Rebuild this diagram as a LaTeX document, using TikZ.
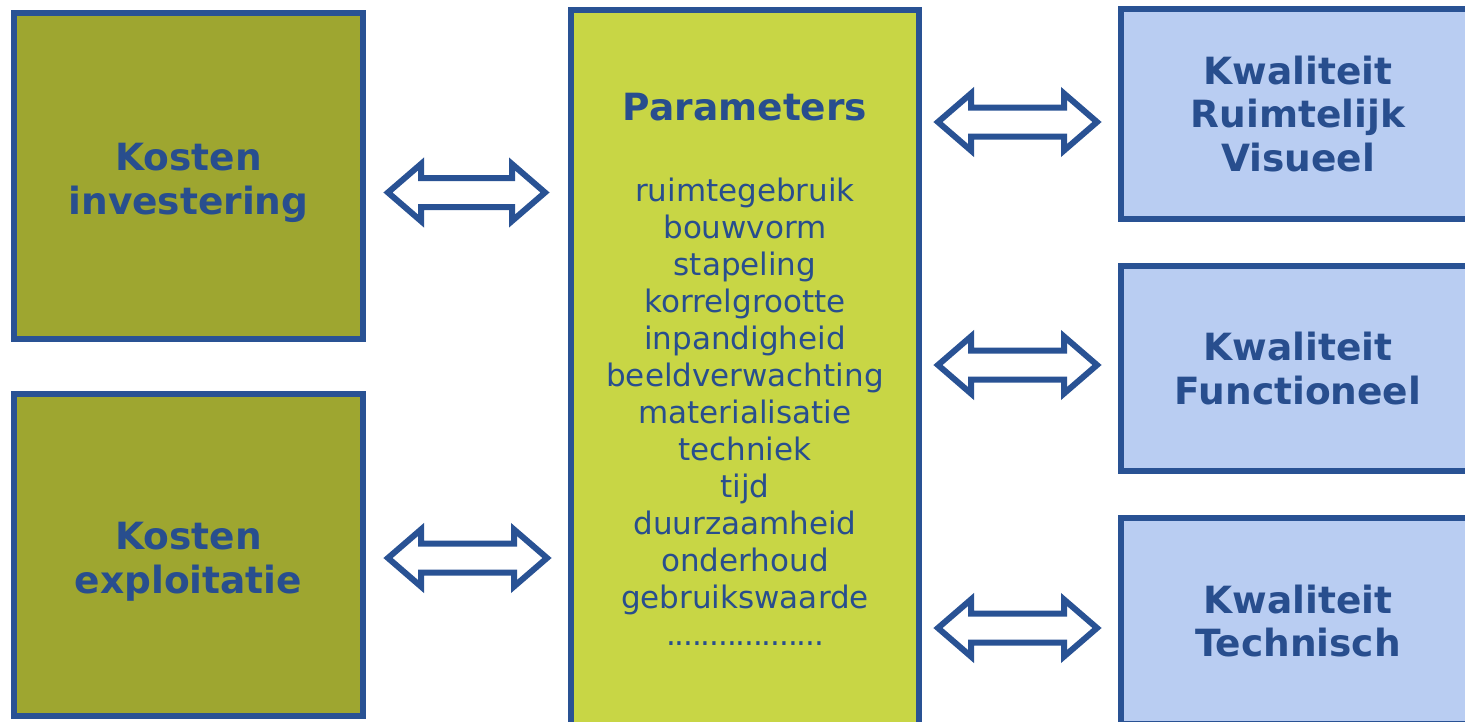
\documentclass[tikz,border=0pt]{standalone}
\usepackage{fontspec}
\setmainfont{DejaVu Sans}
\usetikzlibrary{calc}
\definecolor{bordercol}{RGB}{41,82,148}
\definecolor{textcol}{RGB}{40,78,142}
\definecolor{olivefill}{RGB}{158,166,48}
\definecolor{limefill}{RGB}{200,214,69}
\definecolor{bluefill}{RGB}{185,205,242}
\newcommand\dblblock[2]{%
  \path[arrowline] let \p1=(#1), \p2=(#2) in
    (\x1,\y1) -- (\x1+33pt,\y1+28.5pt) -- (\x1+33pt,\y1+14.5pt)
    -- (\x2-33pt,\y2+14.5pt) -- (\x2-33pt,\y2+28.5pt) -- (\x2,\y2)
    -- (\x2-33pt,\y2-28.5pt) -- (\x2-33pt,\y2-14.5pt)
    -- (\x1+33pt,\y1-14.5pt) -- (\x1+33pt,\y1-28.5pt) -- cycle;}
\begin{document}
\begin{tikzpicture}[x=1pt,y=-1pt,
  box/.style={draw=bordercol, line width=6pt, rectangle, inner sep=0pt,
    text=textcol, align=center, font=\fontsize{37.5pt}{43.5pt}\selectfont\bfseries},
  headtext/.style={text=textcol, align=center, inner sep=0pt,
    font=\fontsize{37.5pt}{44pt}\selectfont\bfseries},
  listtext/.style={text=textcol, align=center, inner sep=0pt,
    font=\fontsize{31pt}{37pt}\selectfont},
  arrowline/.style={draw=bordercol, line width=6pt, fill=white, line join=miter}]
\clip (0,0) rectangle (1465,721);
\fill[white] (0,0) rectangle (1465,721);
% left boxes
\node[box, fill=olivefill, minimum width=349pt, minimum height=326pt] (kinv) at (188.5,176) {};
\node[headtext] (kinvtext) at (188.5,183) {Kosten\\investering};
\node[box, fill=olivefill, minimum width=349pt, minimum height=322pt] (kexp) at (188.5,555) {};
\node[headtext] (kexptext) at (188.5,561.5) {Kosten\\exploitatie};
% middle box
\node[box, fill=limefill, minimum width=348pt, minimum height=720pt] (par) at (745,370) {};
\node[headtext] (parhead) at (745,107) {Parameters};
\node[listtext, anchor=north] (parlist) at (745,178) {ruimtegebruik\\bouwvorm\\stapeling\\korrelgrootte\\inpandigheid\\beeldverwachting\\materialisatie\\techniek\\tijd\\duurzaamheid\\onderhoud\\gebruikswaarde\\{\addfontfeature{LetterSpace=-3.7}..................}};
% right boxes
\node[box, fill=bluefill, minimum width=354pt, minimum height=210pt] (kvis) at (1298,114) {Kwaliteit\\Ruimtelijk\\Visueel};
\node[box, fill=bluefill, minimum width=354pt, minimum height=205pt] (kfun) at (1298,368.5) {Kwaliteit\\Functioneel};
\node[box, fill=bluefill, minimum width=354pt, minimum height=206pt] (ktec) at (1298,621) {Kwaliteit\\Technisch};
% arrows
\coordinate (a1l) at (388,192.5); \coordinate (a1r) at (545,192.5);
\coordinate (a2l) at (388,558);   \coordinate (a2r) at (547,558);
\coordinate (a3l) at (938,122);   \coordinate (a3r) at (1097,122);
\coordinate (a4l) at (938,365);   \coordinate (a4r) at (1097,365);
\coordinate (a5l) at (938,628);   \coordinate (a5r) at (1097,628);
\dblblock{a1l}{a1r}
\dblblock{a2l}{a2r}
\dblblock{a3l}{a3r}
\dblblock{a4l}{a4r}
\dblblock{a5l}{a5r}
\end{tikzpicture}
\end{document}
